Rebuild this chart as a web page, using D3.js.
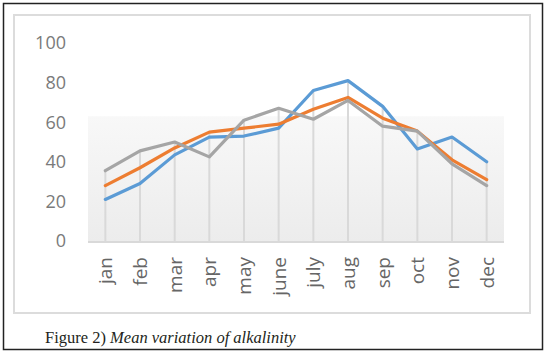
<!DOCTYPE html>
<html>
<head>
<meta charset="utf-8">
<script src="https://cdn.jsdelivr.net/npm/d3@7"></script>
<style>
  body { margin: 0; background: #fff; }
  svg { display: block; }
</style>
</head>
<body>
<div id="chart"></div>
<script>
var months = ["jan", "feb", "mar", "apr", "may", "june", "july", "aug", "sep", "oct", "nov", "dec"];
var blueVals   = [21, 29, 43.5, 52.5, 53, 57, 76, 81, 68, 46.5, 52.5, 40];
var orangeVals = [28, 37, 47, 55, 57, 59, 66.5, 72.5, 62, 55.5, 41, 31];
var grayVals   = [35.5, 45.5, 50, 42.5, 61, 67, 61.5, 71, 58, 55.5, 39, 28];
var yTicks = [0, 20, 40, 60, 80, 100];

var series = [
    { name: "blue", values: blueVals, color: "#5b9bd5" },
    { name: "orange", values: orangeVals, color: "#ed7d31" },
    { name: "gray", values: grayVals, color: "#a5a5a5" }
];

var W = 546, H = 356;
var svg = d3.select("#chart").append("svg")
    .attr("width", W)
    .attr("height", H);

// outer frame
svg.append("rect")
    .attr("x", 3.5).attr("y", 3.5)
    .attr("width", 539).attr("height", 346)
    .attr("fill", "#fff")
    .attr("stroke", "#222")
    .attr("stroke-width", 1.5);

// chart panel
svg.append("rect")
    .attr("x", 14).attr("y", 15)
    .attr("width", 516).attr("height", 298)
    .attr("fill", "#fff")
    .attr("stroke", "#dcdcdc")
    .attr("stroke-width", 2);

var x = d3.scaleBand()
    .domain(months)
    .range([88, 504])
    .padding(0);

var y = d3.scaleLinear()
    .domain([0, 100])
    .range([241, 43]);

var cx = function (m) { return x(m) + x.bandwidth() / 2; };

// soft shaded backdrop behind the lines
var grad = svg.append("defs").append("linearGradient")
    .attr("id", "bg")
    .attr("x1", 0).attr("y1", 0).attr("x2", 0).attr("y2", 1);
grad.append("stop").attr("offset", "0%").attr("stop-color", "#f8f8f8");
grad.append("stop").attr("offset", "100%").attr("stop-color", "#ececec");

svg.append("rect")
    .attr("x", x.range()[0])
    .attr("y", y(63))
    .attr("width", x.range()[1] - x.range()[0])
    .attr("height", y(0) - y(63))
    .attr("fill", "url(#bg)");

// drop lines from highest point down to the axis
svg.append("g")
    .selectAll("line")
    .data(months)
    .enter()
    .append("line")
    .attr("x1", function (d) { return cx(d); })
    .attr("x2", function (d) { return cx(d); })
    .attr("y1", y(0))
    .attr("y2", function (d, i) {
        return y(d3.max(series, function (s) { return s.values[i]; }));
    })
    .attr("stroke", "#d9d9d9")
    .attr("stroke-width", 2);

// category axis line
svg.append("line")
    .attr("x1", x.range()[0]).attr("x2", x.range()[1])
    .attr("y1", y(0) + 1).attr("y2", y(0) + 1)
    .attr("stroke", "#d9d9d9")
    .attr("stroke-width", 2);

// y tick labels
svg.append("g")
    .selectAll("text")
    .data(yTicks)
    .enter()
    .append("text")
    .attr("x", 66)
    .attr("y", function (d) { return y(d); })
    .attr("dy", "0.36em")
    .attr("text-anchor", "end")
    .style("font-family", "'Open Sans', 'Liberation Sans', sans-serif")
    .style("font-size", "18px")
    .attr("fill", "#7a7a7a")
    .text(function (d) { return d; });

// x tick labels, rotated
svg.append("g")
    .selectAll("text")
    .data(months)
    .enter()
    .append("text")
    .attr("transform", function (d) {
        return "translate(" + (cx(d) + 7) + ",257) rotate(-90)";
    })
    .attr("text-anchor", "end")
    .style("font-family", "'Open Sans', 'Liberation Sans', sans-serif")
    .style("font-size", "19px")
    .attr("fill", "#666")
    .text(function (d) { return d; });

// the three series
var line = d3.line()
    .x(function (d, i) { return cx(months[i]); })
    .y(function (d) { return y(d); });

svg.append("g")
    .selectAll("path")
    .data(series)
    .enter()
    .append("path")
    .attr("d", function (s) { return line(s.values); })
    .attr("fill", "none")
    .attr("stroke", function (s) { return s.color; })
    .attr("stroke-width", 3.2)
    .attr("stroke-linejoin", "round")
    .attr("stroke-linecap", "round");

// caption
var cap = svg.append("text")
    .attr("x", 45)
    .attr("y", 343)
    .style("font-family", "'Liberation Serif', 'DejaVu Serif', serif")
    .style("font-size", "16.5px")
    .attr("fill", "#231f20");
cap.append("tspan").text("Figure 2) ");
cap.append("tspan").style("font-style", "italic").text("Mean variation of alkalinity");
</script>
</body>
</html>
